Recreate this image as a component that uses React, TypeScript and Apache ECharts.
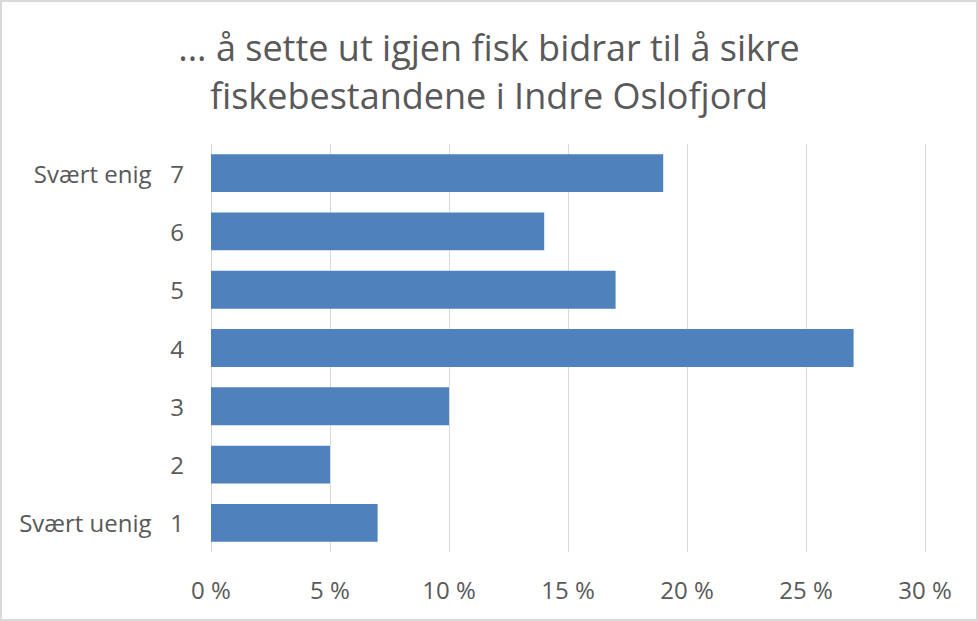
import React, { useEffect, useRef } from "react";
import * as echarts from "echarts";

const categories = ["Svært uenig   1", "2", "3", "4", "5", "6", "Svært enig   7"];
const values = [7, 5, 10, 27, 17, 14, 19];
const titleText = "... å sette ut igjen fisk bidrar til å sikre\nfiskebestandene i Indre Oslofjord";

export default function App() {
  const ref = useRef<HTMLDivElement>(null);
  useEffect(() => {
    document.body.style.margin = "0";
    const chart = echarts.init(ref.current!, undefined, { renderer: "svg" });
    const font = "'Open Sans', 'Noto Sans', sans-serif";
    chart.setOption({
      animation: false,
      backgroundColor: "#ffffff",
      title: {
        text: titleText,
        left: "center",
        top: 18,
        textStyle: {
          color: "#595959",
          fontSize: 36,
          fontWeight: "normal",
          fontFamily: font,
          lineHeight: 48,
        },
      },
      grid: { left: 211, right: 53, top: 144, bottom: 69 },
      xAxis: {
        type: "value",
        min: 0,
        max: 30,
        interval: 5,
        axisLine: { show: false },
        axisTick: { show: false },
        splitLine: { lineStyle: { color: "#d9d9d9", width: 1 } },
        axisLabel: {
          formatter: (v: number) => `${v} %`,
          color: "#595959",
          fontSize: 24,
          fontFamily: font,
          margin: 25,
        },
      },
      yAxis: {
        type: "category",
        data: categories,
        axisLine: { show: true, lineStyle: { color: "#d9d9d9", width: 1 } },
        axisTick: { show: false },
        axisLabel: {
          color: "#595959",
          fontSize: 24,
          fontFamily: font,
          margin: 27,
        },
      },
      series: [
        {
          type: "bar",
          data: values,
          barCategoryGap: "35%",
          itemStyle: { color: "#4f81bd" },
        },
      ],
    });
    return () => chart.dispose();
  }, []);
  return (
    <div style={{ position: "absolute", left: 0, top: 0, width: 978, height: 621, background: "#fff" }}>
      <div ref={ref} style={{ position: "absolute", left: 0, top: 0, width: 978, height: 621 }} />
      <div
        style={{
          position: "absolute",
          left: 0,
          top: 0,
          width: 978,
          height: 621,
          boxSizing: "border-box",
          border: "2px solid #d9d9d9",
          pointerEvents: "none",
        }}
      />
    </div>
  );
}
